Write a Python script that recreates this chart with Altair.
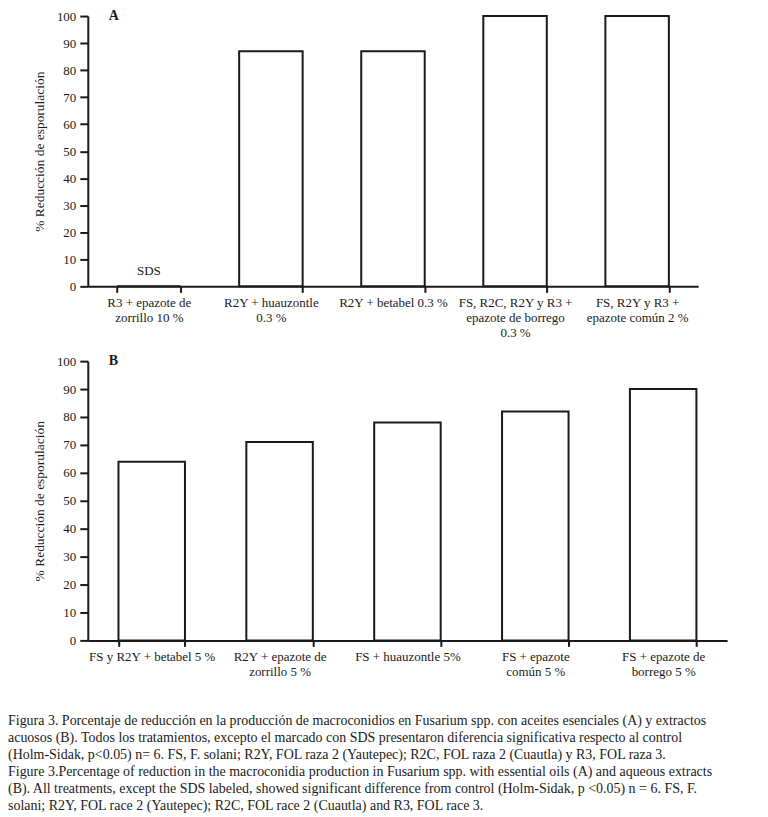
import altair as alt
import pandas as pd

FONT = "Liberation Serif"
INK = "#1a1a1a"

# Panel A: essential oils
cats_a = [
    "R3 + epazote de|zorrillo 10 %",
    "R2Y + huauzontle|0.3 %",
    "R2Y + betabel 0.3 %",
    "FS, R2C, R2Y y R3 +|epazote de borrego|0.3 %",
    "FS, R2Y y R3 +|epazote común 2 %",
]
vals_a = [0, 87, 87, 100, 100]
note_cat = [cats_a[0]]
note_text = ["SDS"]
note_pos = [5.5]

# Panel B: aqueous extracts
cats_b = [
    "FS y R2Y + betabel 5 %",
    "R2Y + epazote de|zorrillo 5 %",
    "FS + huauzontle 5%",
    "FS + epazote|común 5 %",
    "FS + epazote de|borrego 5 %",
]
vals_b = [64, 71, 78, 82, 90]

y_ticks = [0, 10, 20, 30, 40, 50, 60, 70, 80, 90, 100]
y_title = "% Reducción de esporulación"

caption_lines = [
    "Figura 3. Porcentaje de reducción en la producción de macroconidios en Fusarium spp. con aceites esenciales (A) y extractos",
    "acuosos (B). Todos los tratamientos, excepto el marcado con SDS presentaron diferencia significativa respecto al control",
    "(Holm-Sidak, p<0.05) n= 6. FS, F. solani; R2Y, FOL raza 2 (Yautepec); R2C, FOL raza 2 (Cuautla) y R3, FOL raza 3.",
    "Figure 3.Percentage of reduction in the macroconidia production in Fusarium spp. with essential oils (A) and aqueous extracts",
    "(B). All treatments, except the SDS labeled, showed significant difference from control (Holm-Sidak, p <0.05) n = 6. FS, F.",
    "solani; R2Y, FOL race 2 (Yautepec); R2C, FOL race 2 (Cuautla) and R3, FOL race 3.",
]


def x_enc(cats):
    return alt.X(
        "cat:N",
        sort=cats,
        title=None,
        scale=alt.Scale(paddingInner=0.48, paddingOuter=0.24),
        axis=alt.Axis(
            labelAngle=0,
            labelExpr="split(datum.label, '|')",
            tickBand="extent",
            tickSize=6,
            tickWidth=2,
            tickColor=INK,
            domainColor=INK,
            domainWidth=2,
            labelPadding=4,
            labelFont=FONT,
            labelFontSize=13,
            labelLineHeight=15,
            labelColor=INK,
            labelLimit=200,
        ),
    )


Y_AXIS = alt.Axis(
    values=y_ticks,
    title=y_title,
    grid=False,
    tickSize=8,
    tickWidth=2,
    tickColor=INK,
    domainColor=INK,
    domainWidth=2,
    labelPadding=4,
    labelFont=FONT,
    labelFontSize=13,
    labelColor=INK,
    titleFont=FONT,
    titleFontSize=13.5,
    titleFontWeight="normal",
    titleColor=INK,
    titlePadding=10,
)


def y_enc(field):
    return alt.Y(field, scale=alt.Scale(domain=[0, 100]), axis=Y_AXIS)


def panel(cats, vals, letter):
    df = pd.DataFrame({"cat": cats, "val": vals})
    bars = alt.Chart(df).mark_bar(
        fill="white", stroke=INK, strokeWidth=2
    ).encode(x=x_enc(cats), y=y_enc("val:Q"))
    lab = alt.Chart(pd.DataFrame({"letter": [letter]})).mark_text(
        font=FONT, fontSize=14, fontWeight="bold", color=INK,
        align="left", baseline="middle",
    ).encode(text="letter:N", x=alt.value(21), y=alt.value(0))
    return bars, lab


bars_a, lab_a = panel(cats_a, vals_a, "A")
notes = pd.DataFrame({"cat": note_cat, "note": note_text, "pos": note_pos})
sds = alt.Chart(notes).mark_text(
    font=FONT, fontSize=13, color=INK, baseline="middle"
).encode(x=x_enc(cats_a), y=y_enc("pos:Q"), text="note:N")
chart_a = alt.layer(bars_a, sds, lab_a).properties(width=612, height=271)

bars_b, lab_b = panel(cats_b, vals_b, "B")
chart_b = alt.layer(bars_b, lab_b).properties(width=641, height=280)

cap_df = pd.DataFrame({"line": list(range(len(caption_lines))), "text": caption_lines})
caption = alt.Chart(cap_df).mark_text(
    font=FONT, fontSize=14, color=INK, align="left", baseline="middle"
).encode(
    x=alt.value(-80),
    y=alt.Y("line:Q", scale=alt.Scale(domain=[0, 5], range=[6, 91]), axis=None),
    text="text:N",
).properties(width=674, height=95)

chart = alt.vconcat(
    chart_a, chart_b, caption, spacing=75, bounds="flush"
).resolve_scale(x="independent", y="independent").properties(
    padding=0
).configure(background="white").configure_view(stroke=None)

chart.save("out.html", embed_options={"renderer": "svg", "actions": False})
